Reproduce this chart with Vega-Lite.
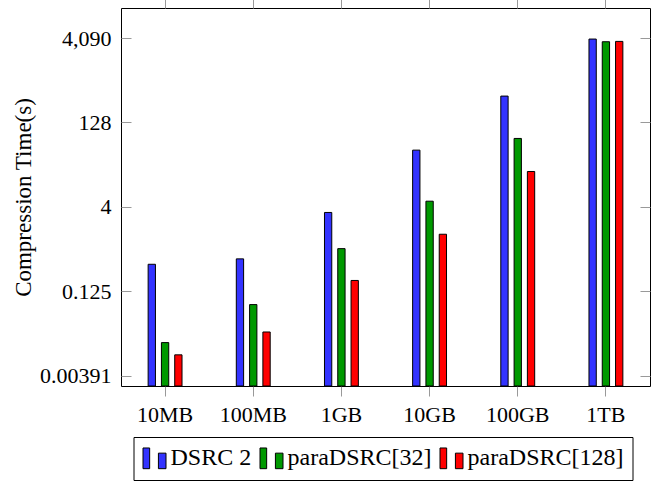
{
  "$schema": "https://vega.github.io/schema/vega-lite/v6.json",
  "autosize": {"type": "none"},
  "padding": {"left": 121, "top": 8, "right": 17, "bottom": 100},
  "width": 529,
  "height": 378,
  "background": "white",
  "config": {
    "view": {"stroke": "black", "strokeWidth": 1},
    "font": "Liberation Serif",
    "axis": {"grid": false, "domain": false, "tickColor": "#999999", "tickWidth": 1, "labelColor": "black", "labelFont": "Liberation Serif", "labelFontSize": 22, "titleFont": "Liberation Serif", "titleFontSize": 22, "titleFontWeight": "normal", "titleColor": "black"},
    "legend": {"labelFont": "Liberation Serif"}
  },
  "data": {
    "values": [
      {"size": "10MB", "series": "DSRC 2", "time": 0.379},
      {"size": "10MB", "series": "paraDSRC[32]", "time": 0.0152},
      {"size": "10MB", "series": "paraDSRC[128]", "time": 0.0092},
      {"size": "100MB", "series": "DSRC 2", "time": 0.473},
      {"size": "100MB", "series": "paraDSRC[32]", "time": 0.0724},
      {"size": "100MB", "series": "paraDSRC[128]", "time": 0.0235},
      {"size": "1GB", "series": "DSRC 2", "time": 3.18},
      {"size": "1GB", "series": "paraDSRC[32]", "time": 0.72},
      {"size": "1GB", "series": "paraDSRC[128]", "time": 0.195},
      {"size": "10GB", "series": "DSRC 2", "time": 41.1},
      {"size": "10GB", "series": "paraDSRC[32]", "time": 5.05},
      {"size": "10GB", "series": "paraDSRC[128]", "time": 1.3},
      {"size": "100GB", "series": "DSRC 2", "time": 378},
      {"size": "100GB", "series": "paraDSRC[32]", "time": 66.4},
      {"size": "100GB", "series": "paraDSRC[128]", "time": 17.1},
      {"size": "1TB", "series": "DSRC 2", "time": 3930},
      {"size": "1TB", "series": "paraDSRC[32]", "time": 3520},
      {"size": "1TB", "series": "paraDSRC[128]", "time": 3570}
    ]
  },
  "resolve": {"axis": {"x": "independent", "y": "independent"}},
  "layer": [
    {
      "mark": {"type": "bar", "stroke": "black", "strokeWidth": 1},
      "encoding": {
        "x": {
          "field": "size", "type": "nominal", "sort": null,
          "scale": {"paddingInner": 0.55, "paddingOuter": 0.275},
          "axis": {"orient": "bottom", "title": null, "labelAngle": 0, "tickSize": 10, "labelPadding": 8}
        },
        "xOffset": {
          "field": "series", "type": "nominal", "sort": ["DSRC 2", "paraDSRC[32]", "paraDSRC[128]"],
          "scale": {"paddingInner": 0.45, "paddingOuter": 0.2175}
        },
        "y": {
          "field": "time", "type": "quantitative",
          "scale": {"type": "log", "base": 2, "domain": [0.002559, 14067], "nice": false},
          "axis": {
            "orient": "left", "title": "Compression Time(s)", "titlePadding": 4,
            "titleFont": "Liberation Serif", "titleFontSize": 23, "titleFontWeight": "normal",
            "values": [0.00390625, 0.125, 4, 128, 4096],
            "labelExpr": "datum.value == 4096 ? '4,090' : (datum.value < 0.01 ? '0.00391' : format(datum.value, '~g'))",
            "tickSize": -10, "labelPadding": 20
          }
        },
        "y2": {"datum": 0.002559},
        "color": {
          "field": "series", "type": "nominal",
          "scale": {"domain": ["DSRC 2", "paraDSRC[32]", "paraDSRC[128]"], "range": ["#3333ff", "#009900", "#ff0000"]},
          "legend": {
            "orient": "none", "legendX": 12.5, "legendY": 429, "direction": "horizontal",
            "title": null,
            "symbolType": "M-1,-0.9H-0.42V0.9H-1Z M0.34,-0.45H1V0.9H0.34Z",
            "symbolSize": 529, "symbolStrokeColor": "black", "symbolStrokeWidth": 1, "symbolOpacity": 1,
            "labelFont": "Liberation Serif", "labelFontSize": 24, "labelColor": "black",
            "labelOffset": 4, "columnPadding": 6,
            "strokeColor": "black", "fillColor": "white", "padding": 9
          }
        }
      }
    },
    {
      "mark": {"type": "bar", "opacity": 0},
      "encoding": {
        "x": {
          "field": "size", "type": "nominal", "sort": null,
          "scale": {"paddingInner": 0.55, "paddingOuter": 0.275},
          "axis": {"orient": "top", "title": null, "labels": false, "tickSize": 10}
        },
        "y": {
          "field": "time", "type": "quantitative",
          "scale": {"type": "log", "base": 2, "domain": [0.002559, 14067], "nice": false},
          "axis": {"orient": "right", "title": null, "labels": false, "values": [0.00390625, 0.125, 4, 128, 4096], "tickSize": -10}
        }
      }
    }
  ]
}
